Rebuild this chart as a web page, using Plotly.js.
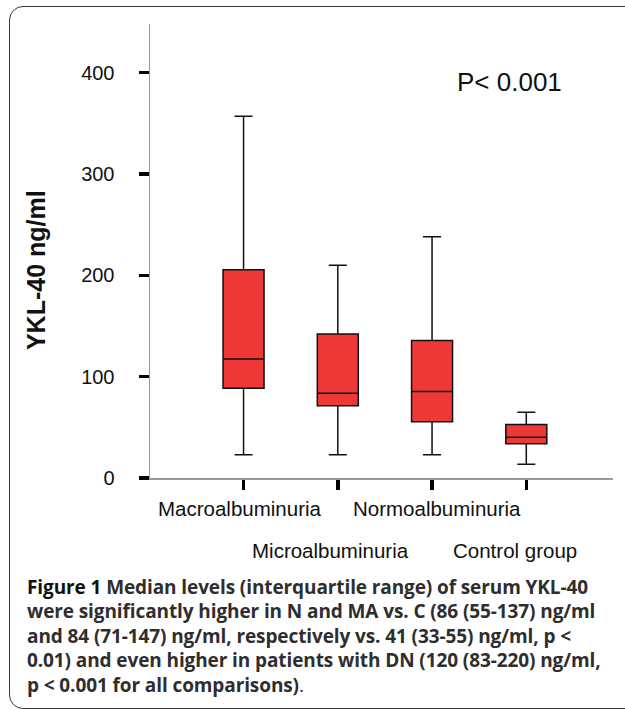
<!DOCTYPE html>
<html>
<head>
<meta charset="utf-8">
<script src="https://cdn.plot.ly/plotly-3.0.1.min.js"></script>
<style>
  html, body { margin: 0; padding: 0; width: 625px; height: 710px; overflow: hidden; background: #fff; }
  #chart { position: absolute; left: 0; top: 0; width: 625px; height: 710px; }
  #frame { position: absolute; left: 9px; top: 6px; width: 660px; height: 701px;
           border: 1.5px solid #3a3a3a; border-radius: 14px; pointer-events: none; }
  #caption { position: absolute; left: 27px; top: 575px; width: 595px;
             font-family: "Open Sans", sans-serif; font-weight: 700; font-size: 19px;
             line-height: 24.4px; color: #2e2e2e; white-space: nowrap; letter-spacing: -0.1px; }
  #caption .fig { color: #111; }
  #caption .end { font-weight: 400; }
</style>
</head>
<body>
<div id="chart"></div>
<div id="frame"></div>
<div id="caption"></div>
<script>
// ---- data ----
const categories = ["Macroalbuminuria", "Microalbuminuria", "Normoalbuminuria", "Control group"];
const positions  = [1, 2, 3, 4];
const lowerWhisker = [23, 23, 23, 13.5];
const q1Values     = [88.6, 71.4, 55.6, 33.9];
const medianValues = [117.5, 83.6, 85.3, 40.2];
const q3Values     = [205.4, 142, 135.6, 52.7];
const upperWhisker = [357, 210, 238, 64.8];
const yTickValues  = [0, 100, 200, 300, 400];
const pText = "P< 0.001";
const yTitle = "YKL-40 ng/ml";
const captionLines = [
  "<span class='fig'>Figure 1</span> Median levels (interquartile range) of serum YKL-40",
  "were significantly higher in N and MA vs. C (86 (55-137) ng/ml",
  "and 84 (71-147) ng/ml, respectively vs. 41 (33-55) ng/ml, p &lt;",
  "0.01) and even higher in patients with DN (120 (83-220) ng/ml,",
  "p &lt; 0.001 for all comparisons)<span class='end'>.</span>"
];

// ---- styling / placement ----
const FONT = "Liberation Sans, Arial, sans-serif";
const labelRowShift = [-30, -72, -30, -72];   // staggered category labels (px)
const labelXShift   = [-4, -7, 5, -11];

const trace = {
  type: "box",
  x: positions,
  q1: q1Values,
  median: medianValues,
  q3: q3Values,
  lowerfence: lowerWhisker,
  upperfence: upperWhisker,
  width: 0.435,
  whiskerwidth: 0.44,
  fillcolor: "#ee3838",
  line: { color: "#111", width: 1.5 },
  boxpoints: false,
  hoverinfo: "skip",
  showlegend: false
};

const annotations = categories.map((c, i) => ({
  text: c,
  x: positions[i],
  xref: "x",
  xshift: labelXShift[i],
  y: 0,
  yref: "paper",
  yshift: labelRowShift[i],
  yanchor: "middle",
  xanchor: "center",
  showarrow: false,
  font: { family: FONT, size: 20.5, color: "#111" }
}));

annotations.push({
  text: pText,
  xref: "paper", x: (509 - 150) / (613 - 150),
  yref: "paper", y: (478 - 82) / (478 - 24),
  showarrow: false, xanchor: "center", yanchor: "middle",
  font: { family: FONT, size: 26, color: "#111" }
});

annotations.push({
  text: "<b>" + yTitle + "</b>",
  textangle: -90,
  x: 0, xref: "paper", xshift: -114,
  y: 0.458, yref: "paper",
  showarrow: false, xanchor: "center", yanchor: "middle",
  font: { family: FONT, size: 25, color: "#111" }
});

const layout = {
  width: 625,
  height: 710,
  margin: { l: 150, r: 12, t: 24, b: 232 },
  paper_bgcolor: "rgba(0,0,0,0)",
  plot_bgcolor: "rgba(0,0,0,0)",
  showlegend: false,
  xaxis: {
    range: [0.0074, 4.92],
    tickvals: positions,
    showticklabels: false,
    ticks: "outside",
    ticklen: 10,
    tickwidth: 3.5,
    tickcolor: "#000",
    showline: true,
    linecolor: "#9a9a9a",
    linewidth: 1.5,
    showgrid: false,
    zeroline: false,
    fixedrange: true
  },
  yaxis: {
    range: [0, 448],
    tickvals: yTickValues,
    ticktext: yTickValues.map(String),
    ticks: "outside",
    ticklen: 10,
    tickwidth: 3.5,
    tickcolor: "#000",
    ticklabelstandoff: 20,
    tickfont: { family: FONT, size: 20, color: "#111" },
    showline: true,
    linecolor: "#9a9a9a",
    linewidth: 1.5,
    showgrid: false,
    zeroline: false,
    fixedrange: true
  },
  annotations: annotations
};

Plotly.newPlot("chart", [trace], layout, { displayModeBar: false, staticPlot: true });

document.getElementById("caption").innerHTML = captionLines.join("<br>");
</script>
</body>
</html>
